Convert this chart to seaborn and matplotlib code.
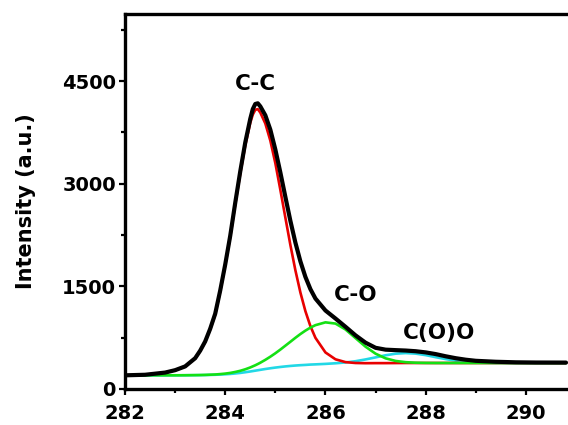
import matplotlib
matplotlib.use("Agg")
from matplotlib import pyplot as plt
from matplotlib.ticker import MultipleLocator
import seaborn as sns
import pandas as pd

# binding energy grid (eV)
energy = [282.0, 282.4, 282.8, 283.0, 283.2, 283.4, 283.5, 283.6, 283.7, 283.8,
          283.9, 284.0, 284.1, 284.2, 284.3, 284.4, 284.5, 284.55, 284.6, 284.65,
          284.7, 284.8, 284.9, 285.0, 285.1, 285.2, 285.3, 285.4, 285.5, 285.6,
          285.7, 285.8, 286.0, 286.2, 286.4, 286.6, 286.8, 287.0, 287.2, 287.4,
          287.6, 287.8, 288.0, 288.2, 288.4, 288.6, 288.8, 289.0, 289.4, 289.8,
          290.2, 290.8]

# envelope (black)
total = [200, 208, 240, 275, 330, 450, 560, 695, 880, 1100,
         1440, 1820, 2240, 2722, 3181, 3603, 3949, 4090, 4165, 4175,
         4130, 4000, 3790, 3500, 3164, 2808, 2458, 2140, 1865, 1638,
         1459, 1322, 1147, 1030, 909, 784, 677, 602, 575, 568,
         562, 552, 535, 510, 478, 450, 428, 412, 398, 390,
         387, 386]

# C-C component (red)
cc = [200, 208, 240, 275, 329, 448, 555, 690, 875, 1090,
      1430, 1810, 2225, 2700, 3150, 3560, 3890, 4010, 4080, 4090,
      4040, 3880, 3630, 3300, 2910, 2505, 2105, 1735, 1410, 1137,
      918, 748, 534, 434, 393, 380, 377, 378, 378, 379,
      380, 380, 380, 380, 380, 380, 380, 380, 380, 380,
      380, 380]

# C-O component (green)
co = [200, 200, 200, 200, 201, 203, 204, 206, 209, 212,
      218, 225, 235, 249, 266, 288, 315, 331, 347, 365,
      384, 426, 472, 522, 576, 633, 690, 748, 803, 853,
      897, 933, 974, 956, 870, 744, 618, 516, 448, 410,
      392, 384, 381, 380, 380, 380, 380, 380, 380, 380,
      380, 380]

# C(O)O component on background (cyan)
coo = [200, 200, 200, 200, 201, 202, 203, 204, 206, 208,
       211, 215, 220, 227, 235, 245, 256, 262, 268, 274,
       280, 292, 303, 313, 322, 330, 337, 343, 348, 352,
       357, 360, 367, 376, 388, 406, 432, 462, 493, 516,
       525, 517, 495, 465, 437, 413, 397, 388, 381, 380,
       380, 380]

labels = ["C-C", "C-O", "C(O)O"]
label_x = [284.6, 286.6, 288.27]
label_y = [4460, 1370, 818]

df = pd.DataFrame({"energy": energy, "total": total, "cc": cc, "co": co, "coo": coo})

sns.set_style("ticks")
plt.rcParams["font.family"] = ["DejaVu Sans"]
plt.rcParams["font.weight"] = "bold"
for key in ["text.color", "axes.labelcolor", "xtick.color", "ytick.color", "axes.edgecolor"]:
    plt.rcParams[key] = "black"

fig = plt.figure(figsize=(5.68, 4.25), dpi=100)
ax = fig.add_axes([125 / 568, 36 / 425, 443 / 568, 375 / 425])

sns.lineplot(data=df, x="energy", y="coo", color="#22d8e6", lw=1.9, ax=ax)
sns.lineplot(data=df, x="energy", y="cc", color="#e80000", lw=1.9, ax=ax)
sns.lineplot(data=df, x="energy", y="co", color="#14e014", lw=1.9, ax=ax)
sns.lineplot(data=df, x="energy", y="total", color="black", lw=3.0, ax=ax)

for t, xx, yy in zip(labels, label_x, label_y):
    ax.text(xx, yy, t, ha="center", va="center", fontsize=15.5, fontweight="bold")

ax.set_xlim(282, 290.84)
ax.set_ylim(0, 5480)
ax.xaxis.set_major_locator(MultipleLocator(2))
ax.xaxis.set_minor_locator(MultipleLocator(1))
ax.yaxis.set_major_locator(MultipleLocator(1500))
ax.yaxis.set_minor_locator(MultipleLocator(750))
ax.tick_params(which="major", direction="out", length=4.5, width=1.6,
               labelsize=14, pad=2)
ax.tick_params(which="minor", direction="out", length=2.8, width=1.6)
ax.tick_params(axis="x", which="major", pad=6)
for lab in ax.get_xticklabels() + ax.get_yticklabels():
    lab.set_fontweight("bold")

ax.set_xlabel("")
ax.set_ylabel("Intensity (a.u.)", fontsize=15, fontweight="bold", labelpad=19)

for side in ["left", "bottom", "top"]:
    ax.spines[side].set_linewidth(2.4)
ax.spines["right"].set_visible(False)

fig.savefig("out.png", dpi=100)
